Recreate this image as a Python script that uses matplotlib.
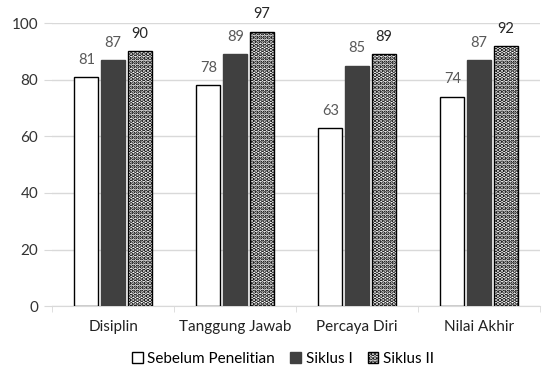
import matplotlib
matplotlib.use("Agg")
import matplotlib.pyplot as plt
import numpy as np

plt.rcParams['font.family'] = ['Lato', 'DejaVu Sans']
plt.rcParams['hatch.linewidth'] = 2.2

categories = ["Disiplin", "Tanggung Jawab", "Percaya Diri", "Nilai Akhir"]
series_names = ["Sebelum Penelitian", "Siklus I", "Siklus II"]
sebelum = [81, 78, 63, 74]
siklus1 = [87, 89, 85, 87]
siklus2 = [90, 97, 89, 92]
yticks = [0, 20, 40, 60, 80, 100]

fig = plt.figure(figsize=(5.44, 3.72), dpi=100)
ax = fig.add_axes([0.096, 0.177, 0.897, 0.761])

x = np.arange(len(categories))
w = 0.195
off = 0.22
styles = [
    dict(facecolor="white", edgecolor="black", hatch=None),
    dict(facecolor="#404040", edgecolor="#404040", hatch=None),
    dict(facecolor="white", edgecolor="black", hatch="...."),
]
label_colors = ["#595959", "#595959", "#262626"]
handles = []
for i, (vals, st) in enumerate(zip([sebelum, siklus1, siklus2], styles)):
    bars = ax.bar(x + (i - 1) * off, vals, w, facecolor=st["facecolor"],
                  edgecolor=st["edgecolor"], hatch=st["hatch"], linewidth=1.0,
                  label=series_names[i], zorder=3)
    handles.append(bars)
    for xi, v in zip(x + (i - 1) * off, vals):
        ax.text(xi, v + 3.6, str(v), ha="center", va="bottom", fontsize=10.5,
                color=label_colors[i])

ax.set_xlim(-0.5, len(categories) - 0.5)
ax.set_ylim(0, 100)
ax.set_yticks(yticks)
ax.set_yticklabels([str(t) for t in yticks], fontsize=11, color="#333333")
ax.set_xticks(x)
ax.set_xticklabels(categories, fontsize=11, color="#222222")
ax.tick_params(axis="x", length=0, pad=10)
ax.tick_params(axis="y", length=6, color="#d9d9d9", pad=4)
ax.set_xticks(np.arange(-0.5, len(categories) + 0.5, 1), minor=True)
ax.tick_params(axis="x", which="minor", length=4, color="#d9d9d9")
ax.grid(axis="y", color="#d9d9d9", linewidth=1.0, zorder=0)
for s in ["top", "right", "left"]:
    ax.spines[s].set_visible(False)
ax.spines["bottom"].set_color("#d9d9d9")

leg = fig.legend(handles=handles, labels=series_names, loc="center",
                 bbox_to_anchor=(0.52, 0.035), ncol=3, frameon=False,
                 fontsize=11, handlelength=0.7, handleheight=0.7,
                 handletextpad=0.3, columnspacing=1.0)

fig.savefig("out.png", dpi=100)
